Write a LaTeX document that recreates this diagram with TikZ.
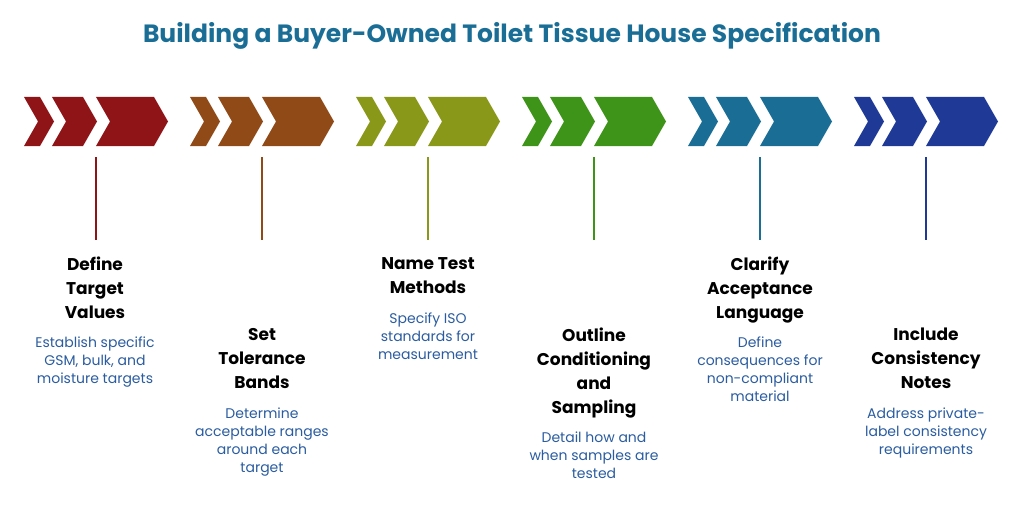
\documentclass[tikz,border=0pt]{standalone}
\usepackage{fontspec}
\setmainfont{Poppins}
\definecolor{c1}{HTML}{8F1418}
\definecolor{c2}{HTML}{8F4A17}
\definecolor{c3}{HTML}{8A981A}
\definecolor{c4}{HTML}{3E9418}
\definecolor{c5}{HTML}{1A6E96}
\definecolor{c6}{HTML}{1F3A96}
\definecolor{ttl}{HTML}{1A6E96}
\definecolor{dsc}{HTML}{2A5CA0}
\begin{document}
\begin{tikzpicture}[x=1pt,y=-1pt,
  ttl/.style={align=center,font=\fontsize{17}{24}\selectfont\bfseries,text=black,anchor=north,inner sep=0},
  dsc/.style={align=center,font=\fontsize{14}{18}\selectfont,text=dsc,anchor=north,inner sep=0}]
\useasboundingbox (0,0) rectangle (1024,508);
\node[font=\fontsize{25}{30}\selectfont\bfseries,text=ttl] (title) at (512,36) {Building a Buyer-Owned Toilet Tissue House Specification};
\newcommand\chev[3]{% x0, w, color
  \fill[#3] (#1,97) -- ({#1+#2},97) -- ({#1+#2+14},121.5) -- ({#1+#2},146) -- (#1,146) -- ({#1+14},121.5) -- cycle;}
\foreach \i/\c in {0/c1,1/c2,2/c3,3/c4,4/c5,5/c6}{
  \pgfmathsetmacro\xo{24+166*\i}
  \chev{\xo}{16}{\c}
  \chev{\xo+28}{31}{\c}
  \chev{\xo+72}{58}{\c}
  \coordinate (t\i) at (\xo+72,157);
  \coordinate (b\i) at (\xo+72,240);
  \draw[\c,line width=1.3pt] (t\i) -- (b\i);
}
\node[ttl] (h1) at (95,257) {Define\\Target\\Values};
\node[dsc] (d1) at (95,337) {Establish specific\\GSM, bulk, and\\moisture targets};
\node[ttl] (h2) at (262,328) {Set\\Tolerance\\Bands};
\node[dsc] (d2) at (262,408) {Determine\\acceptable ranges\\around each\\target};
\node[ttl] (h3) at (428,257) {Name Test\\Methods};
\node[dsc] (d3) at (428,313) {Specify ISO\\standards for\\measurement};
\node[ttl] (h4) at (594,328) {Outline\\Conditioning\\and\\Sampling};
\node[dsc] (d4) at (594,432) {Detail how and\\when samples are\\tested};
\node[ttl] (h5) at (760,257) {Clarify\\Acceptance\\Language};
\node[dsc] (d5) at (760,337) {Define\\consequences for\\non-compliant\\material};
\node[ttl] (h6) at (926,328) {Include\\Consistency\\Notes};
\node[dsc] (d6) at (926,408) {Address private-\\label consistency\\requirements};
\end{tikzpicture}
\end{document}
